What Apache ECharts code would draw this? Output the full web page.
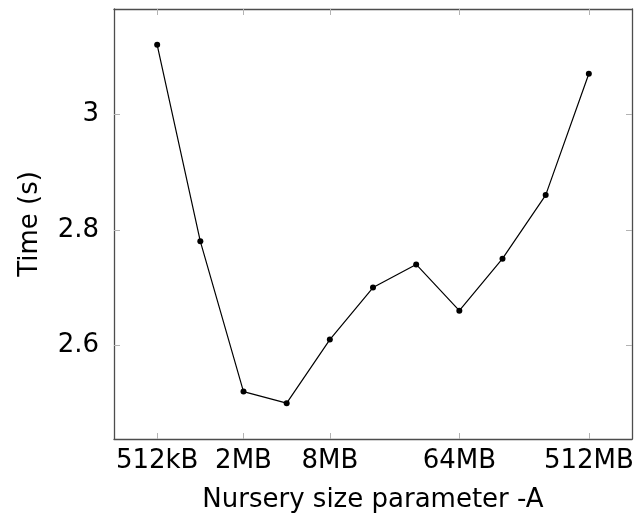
<!DOCTYPE html>
<html><head><meta charset="utf-8">
<script src="https://cdn.jsdelivr.net/npm/echarts@6/dist/echarts.min.js"></script>
<style>html,body{margin:0;padding:0;background:#fff}#c{width:637px;height:521px}</style>
</head><body><div id="c"></div>
<script>
// nursery sizes in kB (512kB ... 512MB)
const sizesKB = [512, 1024, 2048, 4096, 8192, 16384, 32768, 65536, 131072, 262144, 524288];
const times = [3.12, 2.78, 2.52, 2.50, 2.61, 2.70, 2.74, 2.66, 2.75, 2.86, 3.07];
const xTickSizesKB = [512, 2048, 8192, 65536, 524288];
const xTickLabels = ['512kB', '2MB', '8MB', '64MB', '512MB'];
const yTicks = [2.6, 2.8, 3.0];

const xTickVals = xTickSizesKB.map(v => Math.log2(v));
const labelMap = {};
xTickVals.forEach((v, i) => labelMap[v] = xTickLabels[i]);
const data = sizesKB.map((s, i) => [Math.log2(s), times[i]]);

const font = 'DejaVu Sans';
const lineCol = '#4d4d4d';
const tickCol = '#b3b3b3';
const chart = echarts.init(document.getElementById('c'), null, {renderer: 'canvas'});
const xBase = {
  type: 'value', min: 8, max: 20,
  axisLine: {show: true, onZero: false, lineStyle: {color: lineCol, width: 1.3}},
  axisTick: {show: true, inside: true, length: 6, customValues: xTickVals, lineStyle: {color: tickCol, width: 1}},
  splitLine: {show: false}
};
const yBase = {
  type: 'value', min: 2.438, max: 3.182,
  axisLine: {show: true, onZero: false, lineStyle: {color: lineCol, width: 1.3}},
  axisTick: {show: true, inside: true, length: 6, customValues: yTicks, lineStyle: {color: tickCol, width: 1}},
  splitLine: {show: false}
};
chart.setOption({
  animation: false,
  grid: {left: 114, right: 5, top: 9, bottom: 82, containLabel: false},
  xAxis: [
    Object.assign({}, xBase, {
      position: 'bottom',
      name: 'Nursery size parameter -A', nameLocation: 'middle', nameGap: 48,
      nameTextStyle: {fontFamily: font, fontSize: 26, color: '#000'},
      axisLabel: {show: true, customValues: xTickVals, margin: 9, fontFamily: font, fontSize: 26, color: '#000',
        formatter: v => labelMap[v] || ''}
    }),
    Object.assign({}, xBase, {position: 'top', axisLabel: {show: false}})
  ],
  yAxis: [
    Object.assign({}, yBase, {
      position: 'left',
      name: 'Time (s)', nameLocation: 'middle', nameGap: 71, nameRotate: 90,
      nameTextStyle: {fontFamily: font, fontSize: 26, color: '#000'},
      axisLabel: {show: true, customValues: yTicks, margin: 15, fontFamily: font, fontSize: 26, color: '#000'}
    }),
    Object.assign({}, yBase, {position: 'right', axisLabel: {show: false}})
  ],
  series: [{
    type: 'line', data: data, xAxisIndex: 0, yAxisIndex: 0,
    symbol: 'circle', symbolSize: 6,
    lineStyle: {color: '#000', width: 1.2},
    itemStyle: {color: '#000'}
  }]
});
</script></body></html>
